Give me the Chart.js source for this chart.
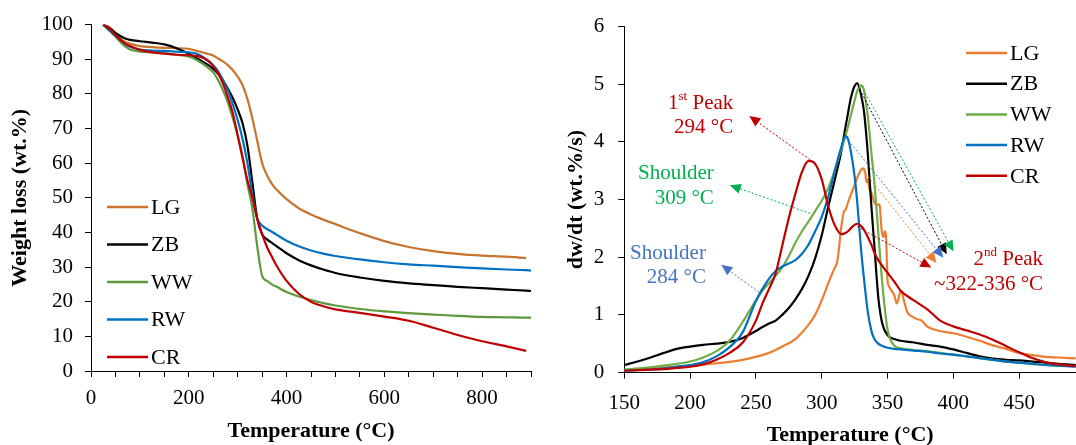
<!DOCTYPE html>
<html>
<head>
<meta charset="utf-8">
<script src="https://cdn.jsdelivr.net/npm/chart.js@4.4.0/dist/chart.umd.min.js"></script>
<style>
  body { margin: 0; background: #fff; }
  #wrap { position: relative; width: 1076px; height: 445px; overflow: hidden; }
  #tgaChart { position: absolute; left: 0; top: 0; }
  #dtgChart { position: absolute; left: 540px; top: 0; }
</style>
</head>
<body>
<div id="wrap">
  <canvas id="tgaChart" width="540" height="445"></canvas>
  <canvas id="dtgChart" width="536" height="445"></canvas>
</div>
<script>
// Series names
const seriesNames = ['LG', 'ZB', 'WW', 'RW', 'CR'];

// TGA (left) - temperature grid and weight remaining (wt.%)
const tgaTemps = [25, 40, 50, 60, 70, 80, 100, 125, 150, 175, 200, 220, 240, 250, 260, 270, 280, 290, 300, 310,
  320, 330, 340, 350, 360, 370, 380, 400, 425, 450, 475, 500, 550, 600, 650, 700, 750, 800, 850, 890, 900];
const tgaLG = [100, 99, 97.5, 96, 95, 94.5, 93.8, 93.5, 93.3, 93.2, 93, 92.3, 91.5, 91.1, 90.2, 89.4, 88.3, 86.8, 85, 82.5,
  78.5, 73, 66.5, 60, 56.5, 54, 52.3, 49.6, 47, 45.2, 43.7, 42.4, 39.8, 37.5, 35.8, 34.6, 33.8, 33.3, 33, 32.6, null];
const tgaZB = [100, 98.7, 97.6, 96.7, 96, 95.6, 95.2, 94.8, 94.3, 93.2, 91.6, 90, 88.3, 87.2, 85.8, 83.8, 81.5, 78.8, 75.5, 71.5,
  65, 54.5, 44, 39.5, 38, 37, 36, 34, 32, 30.5, 29.3, 28.3, 27, 26, 25.3, 24.8, 24.3, 23.9, 23.5, 23.2, 23.1];
const tgaWW = [100, 98, 96.5, 95, 93.7, 92.8, 92.2, 92, 91.7, 91.3, 90.8, 89.5, 87.5, 86.2, 84, 81, 77.5, 73, 68, 62,
  54, 47, 36, 27.5, 26, 25, 24.3, 22.8, 21.5, 20.5, 19.6, 18.9, 17.9, 17.2, 16.7, 16.3, 15.9, 15.6, 15.5, 15.4, 15.4];
const tgaRW = [100, 98, 96.8, 95.6, 94.4, 93.6, 92.8, 92.5, 92.4, 92.2, 92, 91.4, 89.5, 88.3, 86.5, 84, 81, 77, 72.5, 67,
  60, 51, 44, 42, 41, 40.2, 39.3, 37.6, 36, 34.8, 33.9, 33.2, 32.2, 31.4, 30.8, 30.4, 30, 29.6, 29.3, 29.1, 29];
const tgaCR = [100, 98.5, 97, 95.6, 94.5, 93.8, 92.7, 92, 91.6, 91.3, 91.1, 90.9, 89.5, 88, 86, 83, 79, 74.5, 68, 61.5,
  55, 50, 44, 39.5, 35.8, 33, 30.3, 26, 22.3, 20, 18.7, 17.8, 16.8, 15.7, 14.5, 12.5, 10.4, 8.6, 7.1, 5.8, null];

// DTG (right) - dw/dt (wt.%/s)
const dtgTicks = [150, 200, 250, 300, 350, 400, 450];
const dtgTemps = [150, 160, 170, 180, 190, 200, 210, 220, 230, 240, 250, 255, 260, 265, 270, 275, 280, 285, 290, 295,
  300, 305, 310, 315, 318, 320, 322, 325, 327, 330, 332, 335, 338, 340, 343, 346, 350, 355, 360, 370,
  380, 390, 400, 410, 420, 430, 440, 450, 460, 470, 480, 493];
const dtgZB = [0.13, 0.19, 0.26, 0.34, 0.41, 0.45, 0.48, 0.5, 0.53, 0.6, 0.72, 0.79, 0.85, 0.9, 1.0, 1.12, 1.27, 1.45, 1.68, 1.98,
  2.38, 2.88, 3.35, 3.85, 4.25, 4.5, 4.75, 4.97, 5.02, 4.8, 4.55, 3.8, 2.8, 2.2, 1.3, 0.85, 0.65, 0.58, 0.55, 0.52,
  0.48, 0.45, 0.4, 0.34, 0.28, 0.24, 0.22, 0.21, 0.19, 0.17, 0.15, 0.13];
const dtgWW = [0.05, 0.07, 0.09, 0.12, 0.15, 0.19, 0.26, 0.37, 0.55, 0.88, 1.25, 1.42, 1.55, 1.68, 1.82, 2.02, 2.25, 2.45, 2.62, 2.8,
  2.98, 3.2, 3.52, 3.88, 4.1, 4.27, 4.45, 4.72, 4.88, 4.98, 4.9, 4.45, 3.75, 3.3, 2.42, 1.55, 0.75, 0.47, 0.42, 0.39,
  0.37, 0.34, 0.31, 0.28, 0.25, 0.22, 0.19, 0.17, 0.15, 0.13, 0.12, 0.11];
const dtgRW = [0.03, 0.04, 0.05, 0.07, 0.1, 0.13, 0.18, 0.28, 0.44, 0.7, 1.24, 1.45, 1.63, 1.76, 1.84, 1.89, 1.95, 2.06, 2.22, 2.45,
  2.7, 3.05, 3.5, 3.92, 4.1, 4.05, 3.85, 3.4, 2.95, 2.1, 1.65, 1.05, 0.7, 0.58, 0.5, 0.46, 0.43, 0.41, 0.4, 0.38,
  0.36, 0.33, 0.31, 0.28, 0.25, 0.22, 0.19, 0.17, 0.15, 0.13, 0.12, 0.1];
const dtgCR = [0.03, 0.04, 0.05, 0.06, 0.08, 0.1, 0.14, 0.22, 0.34, 0.52, 0.9, 1.2, 1.45, 1.72, 2.2, 2.68, 3.1, 3.48, 3.67, 3.62,
  3.35, 2.88, 2.55, 2.4, 2.42, 2.45, 2.5, 2.56, 2.58, 2.54, 2.48, 2.35, 2.2, 2.08, 1.95, 1.85, 1.73, 1.58, 1.42, 1.25,
  1.1, 0.9, 0.8, 0.73, 0.66, 0.57, 0.46, 0.35, 0.25, 0.18, 0.14, 0.11];
// LG is jagged, so it has its own temperature grid
const dtgTempsLG = [150, 170, 200, 220, 240, 260, 270, 280, 290, 295, 300, 305, 308, 310, 312, 315, 317, 318, 320, 322,
  325, 327, 329, 331, 333, 334, 335, 336, 338, 340, 342, 344, 345, 346, 347, 348, 349, 350, 351, 353,
  355, 357, 358, 360, 361, 363, 365, 368, 372, 376, 380, 390, 400, 410, 420, 430, 440, 450, 460, 470, 480, 493];
const dtgLG = [0.04, 0.07, 0.12, 0.16, 0.22, 0.34, 0.45, 0.58, 0.83, 1.0, 1.25, 1.55, 1.72, 1.82, 1.95, 2.55, 2.8, 2.82, 2.95, 3.08,
  3.25, 3.38, 3.48, 3.54, 3.48, 3.3, 3.35, 3.2, 3.1, 2.95, 2.9, 2.92, 2.6, 2.4, 2.35, 2.45, 2.3, 1.6, 1.5, 1.42,
  1.35, 1.2, 1.25, 1.42, 1.38, 1.2, 1.05, 0.98, 0.93, 0.9, 0.8, 0.72, 0.68, 0.62, 0.55, 0.47, 0.41, 0.34, 0.3, 0.27, 0.26, 0.245];

// DTG annotations (data units)
const noteLabels = [
  { parts: [['1', 0], ['st', 1], [' Peak', 0]], x: 232.8, y: 4.66, color: '#C00000' },
  { parts: [['294 °C', 0]], x: 232.8, y: 4.25, color: '#C00000' },
  { parts: [['Shoulder', 0]], x: 218, y: 3.45, color: '#00B050' },
  { parts: [['309 °C', 0]], x: 218, y: 3.02, color: '#00B050' },
  { parts: [['Shoulder', 0]], x: 212, y: 2.06, color: '#4472C4' },
  { parts: [['284 °C', 0]], x: 212, y: 1.64, color: '#4472C4' },
  { parts: [['2', 0], ['nd', 1], [' Peak', 0]], x: 468.2, y: 1.96, color: '#C00000' },
  { parts: [['~322-336 °C', 0]], x: 468.2, y: 1.53, color: '#C00000' }
];
const noteArrows = [
  { from: [291.2, 3.69], to: [245, 4.45], color: '#C00000' },
  { from: [291.2, 2.76], to: [230.2, 3.25], color: '#00B050' },
  { from: [252.3, 1.39], to: [223.7, 1.87], color: '#4472C4' },
  { from: [327.5, 4.97], to: [395, 2.05], color: '#000000' },
  { from: [330.1, 4.97], to: [400.2, 2.1], color: '#00B050' },
  { from: [318.4, 4.08], to: [392.4, 1.99], color: '#4472C4' },
  { from: [331.4, 3.51], to: [387.2, 1.9], color: '#ED7D31' },
  { from: [327, 2.53], to: [383.3, 1.82], color: '#C00000' }
];

const FONT = "'Liberation Serif', 'Times New Roman', serif";
const tgaColors = ['#C8742F', '#000000', '#5E9A3C', '#0070C0', '#C00000'];
const dtgColors = ['#ED7D31', '#000000', '#70AD47', '#0070C0', '#C00000'];

function toPoints(xs, ys) {
  return xs.map((x, i) => ({ x: x, y: ys[i] }));
}

function makeDatasets(xsList, ysList, colors) {
  return ysList.map((ys, i) => ({
    label: seriesNames[i],
    data: toPoints(xsList[i], ys),
    borderColor: colors[i],
    backgroundColor: colors[i],
    borderWidth: 2.2,
    pointRadius: 0,
    fill: false,
    cubicInterpolationMode: 'monotone',
    order: seriesNames.length - i
  }));
}

// Legend drawn inside the plot, one row per dataset
const seriesLegend = {
  id: 'seriesLegend',
  afterDatasetsDraw(chart, args, opts) {
    const ctx = chart.ctx;
    ctx.save();
    ctx.font = opts.font;
    ctx.textBaseline = 'middle';
    ctx.textAlign = 'left';
    chart.data.datasets.forEach((ds, i) => {
      const y = opts.y + i * opts.gap;
      ctx.strokeStyle = ds.borderColor;
      ctx.lineWidth = 2.5;
      ctx.beginPath();
      ctx.moveTo(opts.x, y);
      ctx.lineTo(opts.x + opts.len, y);
      ctx.stroke();
      ctx.fillStyle = '#000';
      ctx.fillText(ds.label, opts.x + opts.len + 3, y + 1);
    });
    ctx.restore();
  }
};

// Dotted arrows and labels on the DTG chart
const dtgNotes = {
  id: 'dtgNotes',
  afterDatasetsDraw(chart) {
    const ctx = chart.ctx;
    const sx = chart.scales.x, sy = chart.scales.y;
    ctx.save();
    noteArrows.forEach(a => {
      const x1 = sx.getPixelForValue(a.from[0]), y1 = sy.getPixelForValue(a.from[1]);
      const x2 = sx.getPixelForValue(a.to[0]), y2 = sy.getPixelForValue(a.to[1]);
      const ang = Math.atan2(y2 - y1, x2 - x1);
      const headLen = 11, headW = 5;
      const bx = x2 - headLen * Math.cos(ang), by = y2 - headLen * Math.sin(ang);
      ctx.strokeStyle = a.color;
      ctx.lineWidth = 1;
      ctx.setLineDash([2, 2]);
      ctx.beginPath();
      ctx.moveTo(x1, y1);
      ctx.lineTo(bx, by);
      ctx.stroke();
      ctx.setLineDash([]);
      ctx.fillStyle = a.color;
      ctx.beginPath();
      ctx.moveTo(x2, y2);
      ctx.lineTo(bx + headW * Math.sin(ang), by - headW * Math.cos(ang));
      ctx.lineTo(bx - headW * Math.sin(ang), by + headW * Math.cos(ang));
      ctx.closePath();
      ctx.fill();
    });
    ctx.textBaseline = 'middle';
    ctx.textAlign = 'left';
    const big = '21px ' + FONT, small = '13px ' + FONT;
    noteLabels.forEach(n => {
      let total = 0;
      n.parts.forEach(p => {
        ctx.font = p[1] ? small : big;
        total += ctx.measureText(p[0]).width;
      });
      let x = sx.getPixelForValue(n.x) - total;
      const y = sy.getPixelForValue(n.y);
      ctx.fillStyle = n.color;
      n.parts.forEach(p => {
        ctx.font = p[1] ? small : big;
        ctx.fillText(p[0], x, p[1] ? y - 7 : y);
        x += ctx.measureText(p[0]).width;
      });
    });
    ctx.restore();
  }
};

function axisBase(extra) {
  return Object.assign({
    type: 'linear',
    border: { display: true, color: '#000', width: 1 },
    grid: { drawOnChartArea: false, drawTicks: true, tickLength: 6, tickColor: '#000', tickWidth: 1 }
  }, extra);
}

// Left: TGA
new Chart(document.getElementById('tgaChart'), {
  type: 'line',
  data: {
    datasets: makeDatasets([tgaTemps, tgaTemps, tgaTemps, tgaTemps, tgaTemps],
      [tgaLG, tgaZB, tgaWW, tgaRW, tgaCR], tgaColors)
  },
  options: {
    responsive: false,
    animation: false,
    layout: { padding: { top: 20.5, right: 8.4, left: 0, bottom: 0 } },
    plugins: {
      legend: { display: false },
      tooltip: { enabled: false },
      seriesLegend: { x: 107, y: 207, gap: 37.5, len: 41, font: '22px ' + FONT }
    },
    scales: {
      x: axisBase({
        min: 0, max: 900,
        ticks: {
          stepSize: 50, maxRotation: 0, autoSkip: false, padding: 9,
          color: '#000', font: { family: FONT, size: 21 },
          callback: v => (v % 200 === 0 ? String(v) : '')
        },
        title: { display: true, text: 'Temperature (°C)', color: '#000',
          font: { family: FONT, size: 22, weight: 'bold', lineHeight: 1.2 }, padding: { top: 0, bottom: 0 } },
        afterFit: s => { s.height = 74; }
      }),
      y: axisBase({
        min: 0, max: 100,
        ticks: { stepSize: 10, padding: 12, color: '#000', font: { family: FONT, size: 21 } },
        title: { display: true, text: 'Weight loss (wt.%)', color: '#000',
          font: { family: FONT, size: 22, weight: 'bold', lineHeight: 1.2 }, padding: { top: 7, bottom: 0 } },
        afterFit: s => { s.width = 91; }
      })
    }
  },
  plugins: [seriesLegend]
});

// Right: DTG
new Chart(document.getElementById('dtgChart'), {
  type: 'line',
  data: {
    datasets: makeDatasets([dtgTempsLG, dtgTemps, dtgTemps, dtgTemps, dtgTemps],
      [dtgLG, dtgZB, dtgWW, dtgRW, dtgCR], dtgColors)
  },
  options: {
    responsive: false,
    animation: false,
    layout: { padding: { top: 25, right: 0, left: 0, bottom: 0 } },
    plugins: {
      legend: { display: false },
      tooltip: { enabled: false },
      seriesLegend: { x: 426, y: 53, gap: 30.7, len: 41, font: '22px ' + FONT }
    },
    scales: {
      x: axisBase({
        min: 150, max: 493.2,
        afterBuildTicks: s => { s.ticks = dtgTicks.map(v => ({ value: v })); },
        ticks: {
          maxRotation: 0, autoSkip: false, padding: 12,
          color: '#000', font: { family: FONT, size: 21 }
        },
        title: { display: true, text: 'Temperature (°C)', color: '#000',
          font: { family: FONT, size: 22, weight: 'bold', lineHeight: 1.0 }, padding: { top: 0, bottom: -1 } },
        afterFit: s => { s.height = 72.5; }
      }),
      y: axisBase({
        min: 0, max: 6,
        ticks: { stepSize: 1, padding: 14, color: '#000', font: { family: FONT, size: 21 } },
        title: { display: true, text: 'dw/dt (wt.%/s)', color: '#000',
          font: { family: FONT, size: 22, weight: 'bold', lineHeight: 1.2 }, padding: { top: 23, bottom: 0 } },
        afterFit: s => { s.width = 84.3; }
      })
    }
  },
  plugins: [seriesLegend, dtgNotes]
});
</script>
</body>
</html>
